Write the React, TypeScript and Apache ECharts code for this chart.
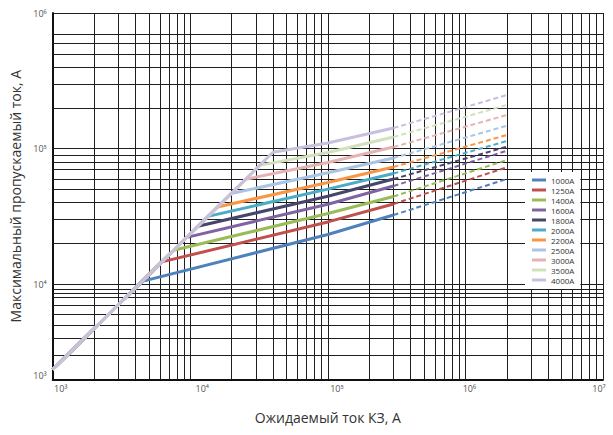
import React, { useEffect, useRef } from "react";
import * as echarts from "echarts";

// ---- data ----
const names = ["1000A", "1250A", "1400A", "1600A", "1800A", "2000A", "2200A", "2500A", "3000A", "3500A", "4000A"];
const colors = ["#4f81bd", "#c0504d", "#9bbb59", "#8064a2", "#47456a", "#4bacc6", "#f79646", "#a9c4e4", "#e6b3b3", "#d0e1bc", "#c8c0dd"];

const diagStart = [1000, 2360];
const kneeX = [4463, 6210, 7565, 9418, 11360, 13450, 15770, 19800, 25210, 31950, 39920];
const kneeY = [10530, 14660, 17850, 22230, 26810, 31740, 37220, 46730, 59500, 75400, 94210];
const x1 = 1e5;
const y1 = [23320, 28880, 33300, 38990, 44600, 50390, 56450, 66560, 79260, 93900, 110200];
const x2 = 3e5;
const y2 = [32460, 39130, 44450, 53110, 59790, 65650, 73320, 85410, 102920, 121980, 142100];
const x3 = 2e6;
const y3 = [59790, 72950, 82550, 96670, 103440, 113960, 126200, 147700, 177200, 209900, 248700];

const xTicks = [1e3, 1e4, 1e5, 1e6, 1e7];
const xTickLabels = ["10³", "10⁴", "10⁵", "10⁶", "10⁷"];
const yTicks = [2e3, 1e4, 1e5, 1e6];
const yTickLabels = ["10³", "10⁴", "10⁵", "10⁶"];

const xGrid = [
  2e3, 3e3, 4e3, 5e3, 6e3, 7e3, 8e3, 9e3, 1e4,
  2e4, 3e4, 4e4, 5e4, 6e4, 7e4, 8e4, 9e4, 1e5,
  2e5, 3e5, 4e5, 5e5, 6e5, 7e5, 8e5, 9e5, 1e6,
  2e6, 3e6, 4e6, 5e6, 6e6, 7e6, 8e6, 9e6, 1e7,
];
const yGrid = [
  3e3, 4e3, 5e3, 6e3, 7e3, 8e3, 8600, 9250, 1e4,
  2e4, 3e4, 4e4, 5e4, 6e4, 7e4, 8e4, 9e4, 1e5,
  2e5, 3e5, 4e5, 5e5, 6e5, 7e5, 1e6,
];

const xName = "Ожидаемый ток КЗ, А";
const yName = "Максимальный пропускаемый ток, А";

const FONT = "'Open Sans', 'Noto Sans', sans-serif";

export default function App() {
  const ref = useRef<HTMLDivElement>(null);
  useEffect(() => {
    const chart = echarts.init(ref.current!, null, { renderer: "svg" });

    const series: any[] = [];
    series.push({
      type: "line",
      name: "grid",
      data: [diagStart],
      showSymbol: false,
      lineStyle: { width: 0, opacity: 0 },
      z: 1,
      silent: true,
      markLine: {
        z: 1,
        silent: true,
        symbol: "none",
        animation: false,
        label: { show: false },
        lineStyle: { color: "#1e1e1e", width: 1, type: "solid" },
        data: [
          ...xGrid.map((v) => ({ xAxis: v })),
          ...yGrid.map((v) => ({ yAxis: v })),
        ],
      },
    });

    names.forEach((n, i) => {
      series.push({
        type: "line",
        name: n,
        z: 2,
        color: colors[i],
        showSymbol: false,
        symbol: "none",
        itemStyle: { color: colors[i] },
        lineStyle: { color: colors[i], width: 3 },
        data: [diagStart, [kneeX[i], kneeY[i]], [x1, y1[i]], [x2, y2[i]]],
      });
    });
    names.forEach((n, i) => {
      series.push({
        type: "line",
        name: n,
        z: 2,
        color: colors[i],
        showSymbol: false,
        symbol: "none",
        itemStyle: { color: colors[i] },
        lineStyle: { color: colors[i], width: 2, type: [5, 3] },
        data: [[x2, y2[i]], [x3, y3[i]]],
      });
    });

    const xRich: any = {};
    const xPads = [[0, 0, 0, 16], [0, 0, 0, 24], [0, 0, 0, 18], [0, 0, 0, 8], [0, 8, 0, 0]];
    xPads.forEach((p, i) => {
      xRich["x" + i] = { fontSize: 9, color: "#555", fontFamily: FONT, padding: p };
    });
    const yRich: any = {
      y0: { fontSize: 9, color: "#555", fontFamily: FONT, padding: [0, 0, 8, 0] },
      yn: { fontSize: 9, color: "#555", fontFamily: FONT },
    };

    const idxOf = (arr: number[], v: number) =>
      arr.findIndex((t) => Math.abs(Math.log10(t) - Math.log10(v)) < 1e-6);

    chart.setOption({
      animation: false,
      backgroundColor: "#fff",
      textStyle: { fontFamily: FONT },
      grid: { left: 52.7, right: 10, top: 13, bottom: 55.7, containLabel: false, outerBoundsMode: "none" },
      legend: {
        data: names,
        orient: "vertical",
        left: 525,
        top: 172,
        icon: "rect",
        itemWidth: 14,
        itemHeight: 3,
        itemGap: 0,
        padding: [3, 6, 4, 7],
        backgroundColor: "#fff",
        textStyle: { fontSize: 8, lineHeight: 10, color: "#333", fontFamily: FONT },
        z: 10,
      },
      xAxis: {
        type: "log",
        logBase: 10,
        min: 1e3,
        max: 1e7,
        name: xName,
        nameLocation: "middle",
        nameGap: 31,
        nameTextStyle: { fontSize: 14, color: "#333", fontFamily: FONT },
        axisLine: { show: true, lineStyle: { color: "#111", width: 2 } },
        axisTick: { show: false },
        splitLine: { show: false },
        minorSplitLine: { show: false },
        axisLabel: {
          customValues: xTicks,
          margin: 5,
          fontSize: 9,
          color: "#555",
          formatter: (v: number) => {
            const i = idxOf(xTicks, v);
            return "{x" + i + "|" + xTickLabels[i] + "}";
          },
          rich: xRich,
        },
      },
      yAxis: {
        type: "log",
        logBase: 10,
        min: 2e3,
        max: 1e6,
        name: yName,
        nameLocation: "middle",
        nameGap: 30,
        nameTextStyle: { fontSize: 14, color: "#333", fontFamily: FONT },
        axisLine: { show: true, lineStyle: { color: "#111", width: 2 } },
        axisTick: { show: false },
        splitLine: { show: false },
        minorSplitLine: { show: false },
        axisLabel: {
          customValues: yTicks,
          margin: 6,
          fontSize: 9,
          color: "#555",
          formatter: (v: number) => {
            const i = idxOf(yTicks, v);
            return i === 0 ? "{y0|" + yTickLabels[i] + "}" : "{yn|" + yTickLabels[i] + "}";
          },
          rich: yRich,
        },
      },
      series,
    });
    return () => chart.dispose();
  }, []);
  return <div ref={ref} style={{ position: "fixed", left: 0, top: 0, width: 613, height: 435 }} />;
}
